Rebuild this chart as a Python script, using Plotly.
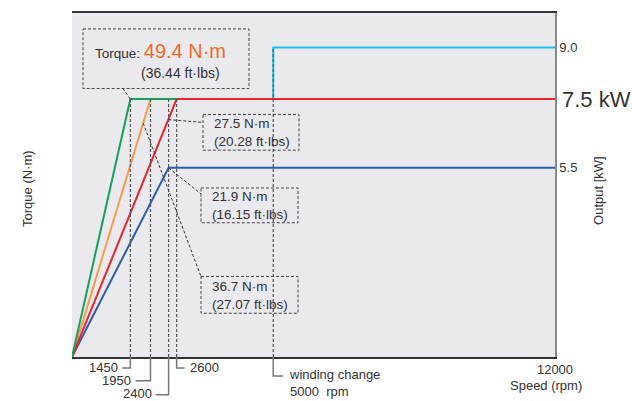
import plotly.graph_objects as go

# ---------------- data ----------------
speed_max = 12000          # rpm
output_max = 10.0          # kW
green_x = [0, 1450, 2600]
green_y = [0, 7.5, 7.5]
orange_x = [0, 1950]
orange_y = [0, 7.5]
red_x = [0, 2600, 12000]
red_y = [0, 7.5, 7.5]
blue_x = [0, 2400, 12000]
blue_y = [0, 5.5, 5.5]
cyan_x = [5000, 5000, 12000]
cyan_y = [7.5, 9.0, 9.0]
base_speeds = [1450, 1950, 2400, 2600]
winding_speed = 5000
winding_output = 9.0
output_ticks = [5.5, 9.0]
output_ticktext = ["5.5", "9.0"]
rated_output = 7.5
speed_ticks = [12000]
speed_ticktext = ["12000"]
torque_labels = [("49.4", "36.44"), ("27.5", "20.28"), ("21.9", "16.15"),
                 ("36.7", "27.07")]

W, H = 632, 401
L, R, T, B = 72, 77, 11, 44
PW, PH = W - L - R, H - T - B

def px(x):
    return (x - L) / PW

def py(y):
    return (H - B - y) / PH

def dx(s):
    return s / speed_max

def dy(v):
    return v / output_max

FONT = "Liberation Sans, Arial, sans-serif"
TXT = "#333333"
NM = "N·m"

fig = go.Figure()
for xs, ys, col in [
    (blue_x, blue_y, "#2b5eae"),
    (cyan_x, cyan_y, "#22bdee"),
    (orange_x, orange_y, "#f59c4c"),
    (red_x, red_y, "#e8262a"),
    (green_x, green_y, "#17a05a"),
]:
    fig.add_trace(go.Scatter(x=xs, y=ys, mode="lines", yaxis="y2",
                             line=dict(color=col, width=2), showlegend=False,
                             hoverinfo="skip"))

shapes = []
DOT = dict(color="#555555", width=1.2, dash="3px,2px")
for s in base_speeds:
    shapes.append(dict(type="line", xref="paper", yref="paper",
                       x0=dx(s), x1=dx(s), y0=0, y1=dy(rated_output), line=DOT))
shapes.append(dict(type="line", xref="paper", yref="paper",
                   x0=dx(winding_speed), x1=dx(winding_speed), y0=0,
                   y1=dy(winding_output), line=DOT))

conn = [(1450, 368, -8), (1950, 381, -15), (2400, 395, -13), (2600, 368, 8),
        (5000, 376, 10)]
CON = dict(color="#777777", width=1.5)
for s, yb, off in conn:
    x0 = dx(s)
    x1 = x0 + off / PW
    shapes.append(dict(type="path", xref="paper", yref="paper",
                       path=f"M {x0},0 L {x0},{py(yb)} L {x1},{py(yb)}", line=CON))

BOX = dict(color="#444444", width=1, dash="3px,2px")
boxes = [(83, 27, 249, 87), (203, 113, 299, 149), (201, 187, 298, 222),
         (201, 276, 298, 313)]
for x0, y0, x1, y1 in boxes:
    shapes.append(dict(type="rect", xref="paper", yref="paper",
                       x0=px(x0), x1=px(x1), y0=py(y0), y1=py(y1),
                       line=BOX, fillcolor="rgba(0,0,0,0)"))

LEAD = dict(color="#333333", width=1, dash="3px,2px")
leaders = [
    ((dx(1450), dy(7.5)), (px(123), py(87))),
    ((dx(2600 * 6.9 / 7.5), dy(6.9)), (px(203), py(121))),
    ((dx(2400), dy(5.5)), (px(201), py(193))),
    ((dx(1950 * 6.8 / 7.5), dy(6.8)), (px(201), py(276))),
]
for (a, b), (c, d) in leaders:
    shapes.append(dict(type="line", xref="paper", yref="paper",
                       x0=a, y0=b, x1=c, y1=d, line=LEAD))

ann = []
def A(text, x, y, size=13, xanchor="left", yanchor="middle", color=TXT, **kw):
    ann.append(dict(text=text, x=x, y=y, xref="paper", yref="paper",
                    xanchor=xanchor, yanchor=yanchor, showarrow=False,
                    font=dict(family=FONT, size=size, color=color), **kw))

A(f"Torque ({NM})", px(28), py(188), xanchor="center", textangle=-90)
A("Output [kW]", px(599), py(190), xanchor="center", textangle=-90)
A("Speed (rpm)", px(584), py(386), xanchor="right")
A(f"{rated_output} kW", px(560), dy(rated_output), size=22)

lab = [(1450, 368, -10, "right"), (1950, 381, -17, "right"),
       (2400, 394, -15, "right"), (2600, 368, 11, "left")]
for s, yb, off, anc in lab:
    A(str(s), dx(s) + off / PW, py(yb), xanchor=anc)
A(f"winding change<br>{winding_speed}  rpm", dx(winding_speed) + 14 / PW,
  py(383), align="left")

t0, f0 = torque_labels[0]
A(f"Torque: <span style='font-size:20px;color:#f26a22'>{t0} {NM}</span>",
  px(93), py(49), size=13.5)
A(f"({f0} ft·lbs)", px(139), py(71), size=14)
for (tq, ft), (xl, yc) in zip(torque_labels[1:], [(212, 131), (210, 205),
                                                   (210, 295)]):
    A(f"{tq} {NM}<br>({ft} ft·lbs)", px(xl), py(yc), size=13.5, align="left")

fig.update_layout(
    width=W, height=H, margin=dict(l=L, r=R, t=T, b=B),
    paper_bgcolor="white", plot_bgcolor="#e9e9ee",
    font=dict(family=FONT, size=13, color=TXT),
    xaxis=dict(range=[0, speed_max], showgrid=False, zeroline=False,
               showline=True, linecolor="#333333", linewidth=1.5, mirror=True,
               tickvals=speed_ticks, ticktext=speed_ticktext, ticks="",
               tickfont=dict(size=13)),
    yaxis=dict(range=[0, output_max], showgrid=False, zeroline=False,
               showline=True, linecolor="#333333", linewidth=1.5,
               showticklabels=False, ticks=""),
    yaxis2=dict(range=[0, output_max], overlaying="y", side="right",
                showgrid=False, zeroline=False, showline=True,
                linecolor="#888888", linewidth=1.5, tickvals=output_ticks,
                ticktext=output_ticktext, ticks="", tickfont=dict(size=13)),
    shapes=shapes, annotations=ann, showlegend=False,
)
fig.write_html("out.html")
